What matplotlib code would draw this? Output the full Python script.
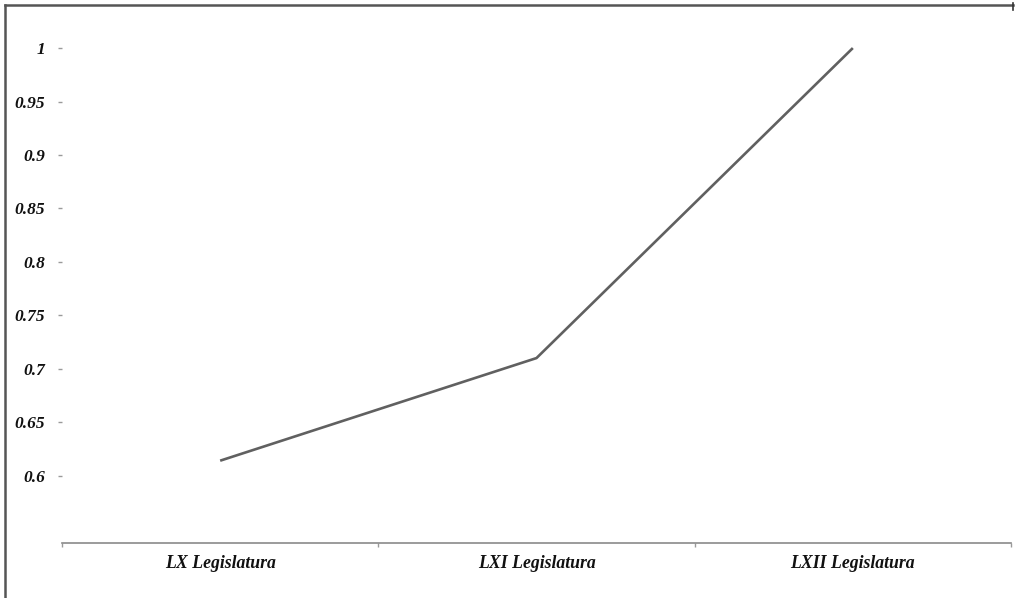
"""Line chart: index across three legislatures."""

import matplotlib

matplotlib.use("Agg")
import matplotlib.pyplot as plt
from matplotlib.lines import Line2D

categories = ["LX Legislatura", "LXI Legislatura", "LXII Legislatura"]
values = [0.614, 0.710, 1.0]
yticks = [0.6, 0.65, 0.7, 0.75, 0.8, 0.85, 0.9, 0.95, 1.0]
ytick_labels = ["0.6", "0.65", "0.7", "0.75", "0.8", "0.85", "0.9", "0.95", "1"]

W, H = 1021, 598
fig = plt.figure(figsize=(W / 100, H / 100), dpi=100)
ax = fig.add_axes([62 / W, 55 / H, 949 / W, 533 / H])

x = list(range(len(categories)))
ax.plot(x, values, color="#606060", linewidth=1.9, solid_capstyle="butt")

ax.set_xlim(-0.5, len(categories) - 0.5)
ax.set_ylim(0.537, 1.0356)

for side in ("top", "right", "left"):
    ax.spines[side].set_visible(False)
ax.spines["bottom"].set_color("#8a8a8a")
ax.spines["bottom"].set_linewidth(1.2)

font = dict(family="Liberation Serif", weight="bold", style="italic")

ax.set_xticks(x)
ax.set_xticklabels(categories, fontsize=12.8, color="#111111", **font)
ax.set_xticks([i - 0.5 for i in range(len(categories) + 1)], minor=True)
ax.tick_params(axis="x", which="major", length=0, pad=9)
ax.tick_params(axis="x", which="minor", length=3, width=1, color="#9a9a9a",
               direction="out")

ax.set_yticks(yticks)
ax.set_yticklabels(ytick_labels, fontsize=12.5, color="#111111", **font)
ax.tick_params(axis="y", length=3, width=1, color="#9a9a9a", pad=9)

# chart frame (left and top edges only)
frame = dict(transform=fig.transFigure, color="#555555", linewidth=1.8)
fig.add_artist(Line2D([5 / W, 5 / W], [0, 1 - 5 / H], **frame))
fig.add_artist(Line2D([5 / W, 1013 / W], [1 - 5 / H, 1 - 5 / H], **frame))
fig.add_artist(Line2D([1013 / W, 1013 / W], [1 - 3 / H, 1 - 10 / H],
                      transform=fig.transFigure, color="#333333", linewidth=1.2))

fig.savefig("out.png", dpi=100)
